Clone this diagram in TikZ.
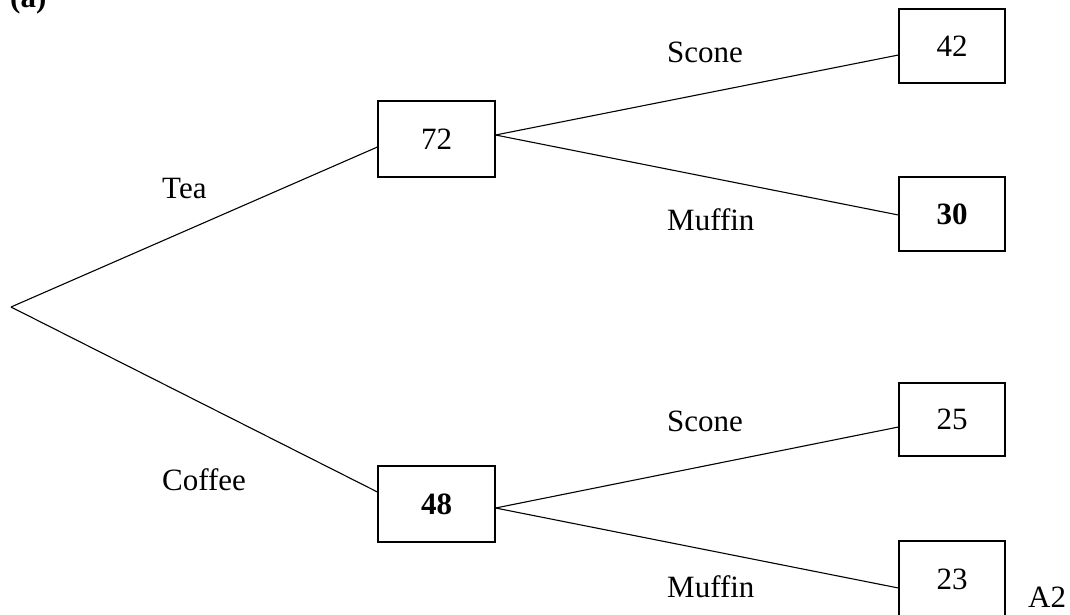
\documentclass[tikz,border=0pt]{standalone}
\usepackage{fontspec}
\setmainfont{Liberation Serif}
\begin{document}
\begin{tikzpicture}[x=1pt,y=-1pt,
  every node/.style={font=\fontsize{31}{36}\selectfont, inner sep=0pt},
  numbox/.style={draw, line width=1.1pt, minimum width=117pt, minimum height=76pt},
  endbox/.style={draw, line width=1.1pt, minimum width=106pt},
  branch/.style={line width=1.1pt},
  lbl/.style={anchor=base west}]
\useasboundingbox[clip] (0,0) rectangle (1070,614);
\node[lbl, font=\fontsize{31}{36}\selectfont\bfseries] (a) at (10,7) {(a)};
\coordinate (r) at (11,307);
\node[numbox] (b72) at (436.5,139) {72};
\node[numbox] (b48) at (436.5,504) {\textbf{48}};
\node[endbox, minimum height=74pt] (b42) at (952,46) {42};
\node[endbox, minimum height=74pt] (b30) at (952,214) {\textbf{30}};
\node[endbox, minimum height=73pt] (b25) at (952,419.5) {25};
\node[endbox, minimum height=80pt, text depth=0pt] (b23) at (952,581) {\raisebox{4pt}{23}};
\draw[branch] (r) -- ([yshift=-8pt]b72.west);
\draw[branch] (r) -- ([yshift=12pt]b48.west);
\draw[branch] ([yshift=4pt]b72.east) -- ([yshift=-9pt]b42.west);
\draw[branch] ([yshift=4pt]b72.east) -- ([yshift=-1pt]b30.west);
\draw[branch] ([yshift=-4pt]b48.east) -- ([yshift=-7.5pt]b25.west);
\draw[branch] ([yshift=-4pt]b48.east) -- ([yshift=-7pt]b23.west);
\node[lbl] (tea) at (162,198) {Tea};
\node[lbl] (coffee) at (162,490) {Coffee};
\node[lbl] (s1) at (667,62) {Scone};
\node[lbl] (m1) at (667,230) {Muffin};
\node[lbl] (s2) at (667,431) {Scone};
\node[lbl] (m2) at (667,597) {Muffin};
\node[lbl] (a2) at (1028,607) {A2};
\end{tikzpicture}
\end{document}
